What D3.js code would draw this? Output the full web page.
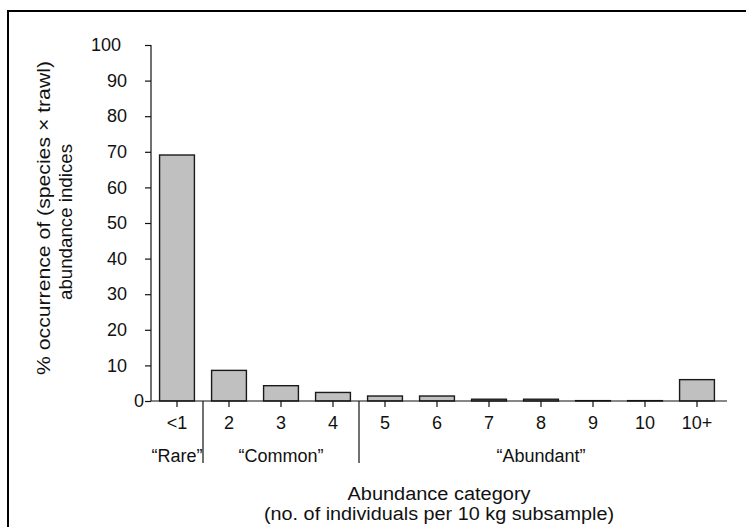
<!DOCTYPE html>
<html><head><meta charset="utf-8">
<script src="https://cdn.jsdelivr.net/npm/d3@7"></script>
<style>body{margin:0;background:#fff}svg text{font-family:"Liberation Sans",Arial,Helvetica,sans-serif;fill:#111}</style>
</head><body><svg id="c" width="746" height="527"></svg>
<script>
const categories = ["<1","2","3","4","5","6","7","8","9","10","10+"];
const values = [69.1, 8.6, 4.3, 2.4, 1.4, 1.4, 0.5, 0.5, 0.1, 0.1, 6.0];
const yTicks = [0,10,20,30,40,50,60,70,80,90,100];
const groups = [
  {label:"\u201cRare\u201d", from:"<1", to:"<1"},
  {label:"\u201cCommon\u201d", from:"2", to:"4"},
  {label:"\u201cAbundant\u201d", from:"5", to:"10+"}
];
const FS = "18px";
const svg = d3.select("#c");
svg.append("rect").attr("x",8).attr("y",11).attr("width",760).attr("height",540)
  .attr("fill","none").attr("stroke","#000").attr("stroke-width",2);
const x = d3.scaleBand().domain(categories).range([151,723]).paddingInner(0.33).paddingOuter(0.165);
const y = d3.scaleLinear().domain([0,100]).range([401,45]);
// bars
svg.append("g").selectAll("rect").data(values).join("rect")
  .attr("x",(d,i)=>x(categories[i])).attr("width",x.bandwidth())
  .attr("y",d=>y(d)).attr("height",d=>y(0)-y(d))
  .attr("fill","#c0c0c0").attr("stroke","#1a1a1a").attr("stroke-width",1.4);
// y axis
const ya = svg.append("g").attr("transform","translate(151,0)")
  .call(d3.axisLeft(y).tickValues(yTicks).tickSize(6).tickPadding(10));
const labelGap = {1:7, 2:24, 3:30};
ya.selectAll("text").style("font-size",FS)
  .attr("x", d => -labelGap[String(d).length]);
ya.select(".domain").attr("d","M0,45V401");
// x axis
const xa = svg.append("g").attr("transform","translate(0,401)")
  .call(d3.axisBottom(x).tickSize(6).tickPadding(9));
xa.selectAll("text").style("font-size",FS);
xa.select(".domain").attr("d","M151,0H727");
svg.selectAll(".domain, .tick line").attr("stroke","#111").attr("stroke-width",1.2);
// group separators & labels
const step = x.step();
groups.forEach((g,i)=>{
  const x0 = x(g.from) + x.bandwidth()/2 - step/2;
  const x1 = x(g.to) + x.bandwidth()/2 + step/2;
  svg.append("text").attr("x",(x0+x1)/2).attr("y",462).attr("text-anchor","middle")
    .style("font-size",FS).text(g.label);
  if(i>0){
    svg.append("line").attr("x1",x0).attr("x2",x0).attr("y1",401).attr("y2",463)
      .attr("stroke","#111").attr("stroke-width",1.2);
  }
});
// axis titles
svg.append("text").attr("x",439).attr("y",500).attr("text-anchor","middle").style("font-size",FS)
  .attr("textLength",183).attr("lengthAdjust","spacingAndGlyphs").text("Abundance category");
svg.append("text").attr("x",439).attr("y",520).attr("text-anchor","middle").style("font-size",FS)
  .attr("textLength",350).attr("lengthAdjust","spacingAndGlyphs").text("(no. of individuals per 10 kg subsample)");
const yt = svg.append("g").attr("transform","translate(0,218) rotate(-90)");
yt.append("text").attr("x",0).attr("y",50).attr("text-anchor","middle").style("font-size",FS)
  .attr("textLength",314).attr("lengthAdjust","spacingAndGlyphs").text("% occurrence of (species \u00d7 trawl)");
yt.append("text").attr("x",-4).attr("y",72).attr("text-anchor","middle").style("font-size",FS)
  .attr("textLength",156).attr("lengthAdjust","spacingAndGlyphs").text("abundance indices");
</script></body></html>
